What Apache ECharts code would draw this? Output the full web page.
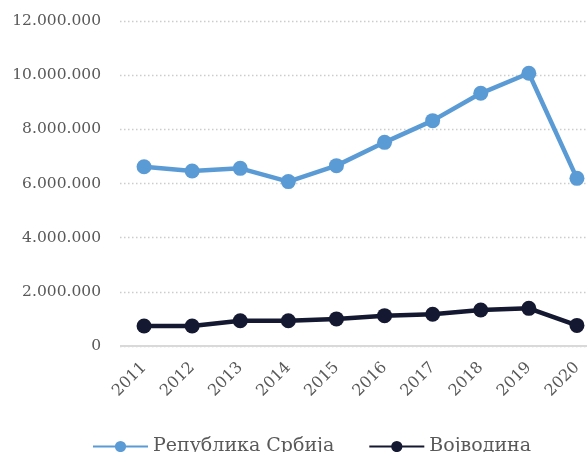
<!DOCTYPE html>
<html>
<head>
<meta charset="utf-8">
<script src="https://cdn.jsdelivr.net/npm/echarts@6/dist/echarts.min.js"></script>
<style>html,body{margin:0;padding:0;background:#fff}#c{width:587px;height:452px}</style>
</head>
<body>
<div id="c"></div>
<script>
var categories = ['2011','2012','2013','2014','2015','2016','2017','2018','2019','2020'];
var srbija = [6620000, 6460000, 6560000, 6070000, 6660000, 7520000, 8320000, 9330000, 10070000, 6190000];
var vojvodina = [740000, 740000, 930000, 930000, 1000000, 1120000, 1170000, 1330000, 1390000, 760000];
var seriesNames = ['Република Србија', 'Војводина'];
var yTicks = [0, 2000000, 4000000, 6000000, 8000000, 10000000, 12000000];

var font = 'DejaVu Serif';
function fmt(v){ return String(v).replace(/\B(?=(\d{3})+(?!\d))/g, '.'); }

var chart = echarts.init(document.getElementById('c'));
chart.setOption({
  animation: false,
  grid: { left: 120, width: 481, top: 21, height: 325, containLabel: false, outerBoundsMode: 'none' },
  legend: {
    left: 87, top: 432,
    itemWidth: 55, itemHeight: 14, itemGap: 34,
    textStyle: { fontFamily: font, fontSize: 19, color: '#595959' },
    data: seriesNames
  },
  xAxis: {
    type: 'category', data: categories, boundaryGap: true,
    axisLine: { show: false },
    axisTick: { show: false },
    axisLabel: { rotate: 45, fontFamily: font, fontSize: 16, color: '#595959', margin: 19, interval: 0 }
  },
  yAxis: {
    type: 'value', min: yTicks[0], max: yTicks[yTicks.length-1], interval: 2000000,
    axisLine: { show: false }, axisTick: { show: false },
    axisLabel: { formatter: fmt, fontFamily: font, fontSize: 15.5, color: '#595959', margin: 19 },
    splitLine: { lineStyle: { type: [1.5, 2.5], color: '#cccccc', width: 1.3 } }
  },
  series: [
    { name: seriesNames[0], type: 'line', data: srbija, symbol: 'circle', symbolSize: 15,
      lineStyle: { width: 4.5, color: '#5B9BD5' }, itemStyle: { color: '#5B9BD5' } },
    { name: seriesNames[1], type: 'line', data: vojvodina, symbol: 'circle', symbolSize: 15,
      lineStyle: { width: 4.5, color: '#141830' }, itemStyle: { color: '#141830' },
      markLine: { silent: true, symbol: 'none', label: { show: false },
        lineStyle: { type: 'solid', color: '#d9d9d9', width: 2 }, data: [{ yAxis: 0 }], z: 1 } }
  ]
});
</script>
</body>
</html>
